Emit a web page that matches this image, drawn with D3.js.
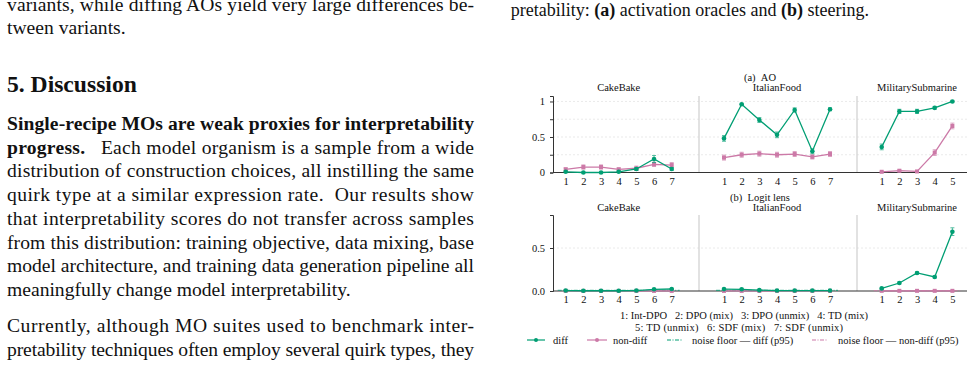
<!DOCTYPE html>
<html>
<head>
<meta charset="utf-8">
<script src="https://cdn.jsdelivr.net/npm/d3@7"></script>
<style>
  body { margin: 0; background: #fff; }
  svg { display: block; }
  svg, svg text { font-family: "Liberation Serif", "Times New Roman", Times, "DejaVu Serif", serif !important; }
  text { fill: #111; }
</style>
</head>
<body>
<div id="page"></div>
<script>
// organisms and variants
var organisms = ["CakeBake", "ItalianFood", "MilitarySubmarine"];
var variantCounts = [7, 7, 5];
var variantNames = ["Int-DPO", "DPO (mix)", "DPO (unmix)", "TD (mix)", "TD (unmix)", "SDF (mix)", "SDF (unmix)"];

// (a) AO scores, one list per organism
var aoDiff = [
  [0.01, 0.0, 0.0, 0.01, 0.05, 0.19, 0.05],
  [0.48, 0.96, 0.74, 0.53, 0.88, 0.30, 0.89],
  [0.36, 0.86, 0.86, 0.91, 1.00]
];
var aoDiffErr = [
  [0.01, 0.005, 0.005, 0.01, 0.02, 0.05, 0.02],
  [0.04, 0.01, 0.035, 0.04, 0.03, 0.035, 0.02],
  [0.04, 0.03, 0.03, 0.02, 0.01]
];
var aoNonDiff = [
  [0.045, 0.077, 0.077, 0.045, 0.06, 0.115, 0.105],
  [0.21, 0.25, 0.265, 0.25, 0.26, 0.22, 0.26],
  [0.01, 0.025, 0.015, 0.28, 0.655]
];
var aoNonDiffErr = [
  [0.02, 0.03, 0.03, 0.02, 0.03, 0.03, 0.035],
  [0.035, 0.035, 0.035, 0.035, 0.035, 0.03, 0.035],
  [0.005, 0.01, 0.005, 0.04, 0.04]
];

// (b) Logit lens scores
var llDiff = [
  [0.005, 0.003, 0.003, 0.003, 0.005, 0.02, 0.023],
  [0.022, 0.02, 0.01, 0.005, 0.005, 0.005, 0.005],
  [0.03, 0.093, 0.21, 0.163, 0.69]
];
var llDiffErr = [
  [0.003, 0.002, 0.002, 0.002, 0.003, 0.005, 0.005],
  [0.005, 0.005, 0.003, 0.002, 0.002, 0.002, 0.002],
  [0.008, 0.01, 0.012, 0.01, 0.045]
];
var llNonDiff = [
  [0.001, 0.001, 0.001, 0.001, 0.001, 0.001, 0.001],
  [0.001, 0.001, 0.001, 0.001, 0.001, 0.001, 0.001],
  [0.002, 0.002, 0.002, 0.002, 0.002]
];
var llNonDiffErr = [
  [0.001, 0.001, 0.001, 0.001, 0.001, 0.001, 0.001],
  [0.001, 0.001, 0.001, 0.001, 0.001, 0.001, 0.001],
  [0.001, 0.001, 0.001, 0.001, 0.001]
];
// noise floors (p95), null = not drawn
var aoFloorDiff = [null, null, null];
var aoFloorNonDiff = [null, null, null];
var llFloorDiff = [0.008, 0.008, null];
var llFloorNonDiff = [0.003, null, 0.003];

// tick labels
var aoTicks = [0, 0.25, 0.5, 0.75, 1];
var aoTickLabels = ["0", "", "0.5", "", "1"];
var llTicks = [0, 0.5];
var llTickLabels = ["0.0", "0.5"];

var green = "#009e73";
var pink = "#cc79a7";
var SERIF = "Liberation Serif, Times New Roman, serif";
var NB = "\u00a0";

var W = 973, H = 366;
var svg = d3.select("#page").append("svg").attr("width", W).attr("height", H)
  .attr("font-family", SERIF);

// ---------- left column text ----------
var colLeft = 7, colWidth = 467;
var bodySize = 19.6;
var leftLines = [
  {y: 11, parts: [["variants, while diffing AOs yield very large differences be-", 0]], just: true},
  {y: 34.3, parts: [["tween variants.", 0]], just: false},
  {y: 130, parts: [["Single-recipe MOs are weak proxies for interpretability", 1]], just: true},
  {y: 153.7, parts: [["progress.", 1], [NB + NB + NB + "Each model organism is a sample from a wide", 0]], just: true},
  {y: 177.4, parts: [["distribution of construction choices, all instilling the same", 0]], just: true},
  {y: 201.1, parts: [["quirk type at a similar expression rate." + NB + " Our results show", 0]], just: true},
  {y: 224.8, parts: [["that interpretability scores do not transfer across samples", 0]], just: true},
  {y: 248.5, parts: [["from this distribution: training objective, data mixing, base", 0]], just: true},
  {y: 272.2, parts: [["model architecture, and training data generation pipeline all", 0]], just: true},
  {y: 295.9, parts: [["meaningfully change model interpretability.", 0]], just: false},
  {y: 331.8, parts: [["Currently, although MO suites used to benchmark inter-", 0]], just: true},
  {y: 355.5, parts: [["pretability techniques often employ several quirk types, they", 0]], just: true}
];
leftLines.forEach(function(l){
  var t = svg.append("text").attr("x", colLeft).attr("y", l.y)
    .style("font-size", bodySize + "px").style("font-family", SERIF);
  l.parts.forEach(function(p){
    t.append("tspan").text(p[0]).style("font-weight", p[1] ? "bold" : "normal");
  });
  if (l.just) t.attr("textLength", colWidth).attr("lengthAdjust", "spacing");
});
svg.append("text").attr("x", colLeft).attr("y", 91.5).style("font-family", SERIF)
  .style("font-size", "23.6px").style("font-weight", "bold").text("5. Discussion");

// caption line (right column)
var cap = svg.append("text").attr("x", 510.7).attr("y", 15.5).style("font-size", "18px")
  .style("font-family", SERIF);
[["pretability: ", 0], ["(a)", 1], [" activation oracles and ", 0], ["(b)", 1], [" steering.", 0]]
  .forEach(function(p){ cap.append("tspan").text(p[0]).style("font-weight", p[1] ? "bold" : "normal"); });

// ---------- chart ----------
var plotLeft = 553, plotRight = 967;
var separators = [699, 857];
var firstTick = [565.7, 724, 881.7];
var step = 17.67;
var xs = variantCounts.map(function(n, k){
  return d3.scaleLinear().domain([1, n]).range([firstTick[k], firstTick[k] + (n - 1) * step]);
});

function drawPanel(cfg) {
  var y = d3.scaleLinear().domain([0, cfg.top]).range([cfg.y0, cfg.y1]);
  var g = svg.append("g");

  // grid
  g.selectAll(".grid").data(cfg.grid).enter().append("line")
    .attr("x1", plotLeft).attr("x2", plotRight)
    .attr("y1", function(d){ return y(d); }).attr("y2", function(d){ return y(d); })
    .attr("stroke", "#e4e4e4").attr("stroke-width", 0.8).attr("stroke-dasharray", "2,2");

  // separators
  g.selectAll(".sep").data(separators).enter().append("line")
    .attr("x1", function(d){ return d; }).attr("x2", function(d){ return d; })
    .attr("y1", y(cfg.top)).attr("y2", y(0))
    .attr("stroke", "#cfcfcf").attr("stroke-width", 1.2);

  // y axis
  var ya = g.append("g").attr("transform", "translate(" + plotLeft + ",0)")
    .call(d3.axisLeft(y).tickValues(cfg.ticks).tickSize(3).tickPadding(5)
      .tickFormat(function(d, i){ return cfg.tickLabels[i]; }));
  ya.attr("font-family", SERIF);
  ya.select(".domain").attr("stroke", "#333").attr("stroke-width", 1);
  ya.selectAll(".tick line").attr("stroke", "#333");
  ya.selectAll("text").style("font-size", "10.5px").style("font-family", SERIF).attr("fill", "#111");

  // x axis line
  g.append("line").attr("x1", plotLeft).attr("x2", plotRight)
    .attr("y1", y(0)).attr("y2", y(0)).attr("stroke", "#333").attr("stroke-width", 1);

  organisms.forEach(function(org, k){
    var x = xs[k];
    var idx = d3.range(1, variantCounts[k] + 1);
    var xa = g.append("g").attr("transform", "translate(0," + y(0) + ")")
      .call(d3.axisBottom(x).tickValues(idx).tickSize(0).tickPadding(5).tickFormat(d3.format("d")));
    xa.attr("font-family", SERIF);
    xa.select(".domain").remove();
    xa.selectAll("text").style("font-size", "10.5px").style("font-family", SERIF).attr("fill", "#111");

    // panel title
    g.append("text").attr("x", (x(1) + x(variantCounts[k])) / 2).attr("y", cfg.titleY)
      .attr("text-anchor", "middle").style("font-size", "10.5px").style("font-family", SERIF).text(org);

    // noise floors
    [[cfg.floorNonDiff[k], pink], [cfg.floorDiff[k], green]].forEach(function(f){
      if (f[0] == null) return;
      g.append("line").attr("x1", x(0.55)).attr("x2", x(variantCounts[k] + 0.45))
        .attr("y1", y(f[0])).attr("y2", y(f[0]))
        .attr("stroke", f[1]).attr("stroke-width", 1).attr("stroke-dasharray", "4,1.5,1,1.5")
        .attr("opacity", 0.85);
    });

    // series
    [[cfg.nonDiff[k], cfg.nonDiffErr[k], pink, "square"], [cfg.diff[k], cfg.diffErr[k], green, "circle"]]
      .forEach(function(s){
        var vals = s[0], errs = s[1], col = s[2];
        var pts = vals.map(function(v, i){ return {i: i + 1, v: v, e: errs[i]}; });
        var line = d3.line().x(function(d){ return x(d.i); }).y(function(d){ return y(d.v); });
        g.append("path").datum(pts).attr("d", line).attr("fill", "none")
          .attr("stroke", col).attr("stroke-width", 1.3);
        var eb = g.selectAll(null).data(pts).enter().append("g").attr("stroke", col)
          .attr("stroke-width", 0.9).attr("opacity", 0.75);
        eb.append("line").attr("x1", function(d){ return x(d.i); }).attr("x2", function(d){ return x(d.i); })
          .attr("y1", function(d){ return y(d.v - d.e); }).attr("y2", function(d){ return y(d.v + d.e); });
        eb.append("line").attr("x1", function(d){ return x(d.i) - 2; }).attr("x2", function(d){ return x(d.i) + 2; })
          .attr("y1", function(d){ return y(d.v + d.e); }).attr("y2", function(d){ return y(d.v + d.e); });
        eb.append("line").attr("x1", function(d){ return x(d.i) - 2; }).attr("x2", function(d){ return x(d.i) + 2; })
          .attr("y1", function(d){ return y(d.v - d.e); }).attr("y2", function(d){ return y(d.v - d.e); });
        if (s[3] === "circle") {
          g.selectAll(null).data(pts).enter().append("circle")
            .attr("cx", function(d){ return x(d.i); }).attr("cy", function(d){ return y(d.v); })
            .attr("r", 2.3).attr("fill", col);
        } else {
          g.selectAll(null).data(pts).enter().append("rect")
            .attr("x", function(d){ return x(d.i) - 2; }).attr("y", function(d){ return y(d.v) - 2; })
            .attr("width", 4).attr("height", 4).attr("fill", col);
        }
      });
  });

  // suptitle
  g.append("text").attr("x", (plotLeft + plotRight) / 2).attr("y", cfg.supY)
    .attr("text-anchor", "middle").style("font-size", "10.5px").style("font-family", SERIF).text(cfg.sup);
}

drawPanel({
  y0: 172.5, y1: 96, top: 1.077, grid: [0.25, 0.5, 0.75, 1],
  ticks: aoTicks, tickLabels: aoTickLabels,
  diff: aoDiff, diffErr: aoDiffErr, nonDiff: aoNonDiff, nonDiffErr: aoNonDiffErr,
  floorDiff: aoFloorDiff, floorNonDiff: aoFloorNonDiff,
  titleY: 90.5, supY: 80.5, sup: "(a)" + NB + NB + "AO"
});
drawPanel({
  y0: 291, y1: 215, top: 0.884, grid: [0.5],
  ticks: llTicks, tickLabels: llTickLabels,
  diff: llDiff, diffErr: llDiffErr, nonDiff: llNonDiff, nonDiffErr: llNonDiffErr,
  floorDiff: llFloorDiff, floorNonDiff: llFloorNonDiff,
  titleY: 210.5, supY: 200.5, sup: "(b)" + NB + NB + "Logit lens"
});

// ---------- legend ----------
var gap = NB + NB + NB;
var keyLine1 = variantNames.slice(0, 4).map(function(n, i){ return (i + 1) + ": " + n; }).join(gap);
var keyLine2 = variantNames.slice(4).map(function(n, i){ return (i + 5) + ": " + n; }).join(gap);
svg.append("text").attr("x", 620).attr("y", 318.8)
  .attr("textLength", 248).attr("lengthAdjust", "spacing")
  .style("font-size", "10.5px").style("font-family", SERIF).text(keyLine1);
svg.append("text").attr("x", 635).attr("y", 330.5)
  .attr("textLength", 208).attr("lengthAdjust", "spacing")
  .style("font-size", "10.5px").style("font-family", SERIF).text(keyLine2);

var legendItems = [
  {label: "diff", color: green, marker: true, dash: null, x0: 527, x1: 545, tx: 553},
  {label: "non-diff", color: pink, marker: true, dash: null, x0: 587, x1: 607, tx: 613},
  {label: "noise floor — diff (p95)", color: green, marker: false, dash: "4,1.5,1,1.5", x0: 667, x1: 683, tx: 692},
  {label: "noise floor — non-diff (p95)", color: pink, marker: false, dash: "4,1.5,1,1.5", x0: 812, x1: 828, tx: 838}
];
var ly = 340;
var lg = svg.selectAll(".leg").data(legendItems).enter().append("g");
lg.append("line").attr("x1", function(d){ return d.x0; }).attr("x2", function(d){ return d.x1; })
  .attr("y1", ly).attr("y2", ly).attr("stroke", function(d){ return d.color; })
  .attr("stroke-width", 1.2).attr("stroke-dasharray", function(d){ return d.dash; });
lg.filter(function(d){ return d.marker; }).append("circle")
  .attr("cx", function(d){ return (d.x0 + d.x1) / 2; }).attr("cy", ly).attr("r", 2)
  .attr("fill", function(d){ return d.color; });
lg.append("text").attr("x", function(d){ return d.tx; }).attr("y", ly + 3.6)
  .style("font-size", "10.5px").style("font-family", SERIF).text(function(d){ return d.label; });
</script>
</body>
</html>
